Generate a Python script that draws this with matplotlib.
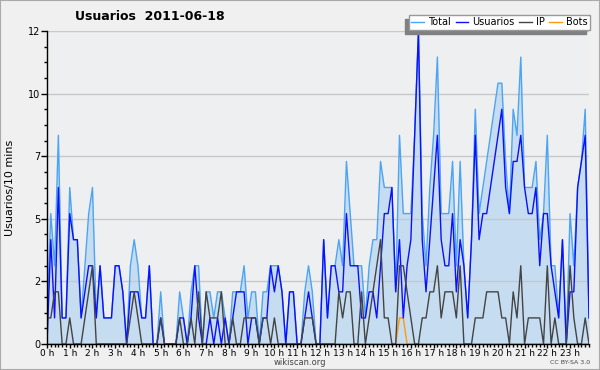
import matplotlib
matplotlib.use('Agg')
import matplotlib.pyplot as plt
from matplotlib.lines import Line2D
from matplotlib.patches import Rectangle
import numpy as np

hour_labels = [f"{h} h" for h in range(24)]
series_names = ["Total", "Usuarios", "IP", "Bots"]

usuarios = [0, 4, 1, 6, 1, 1, 5, 4, 4, 1,
            2, 3, 3, 1, 3, 1, 1, 1, 3, 3,
            2, 0, 2, 2, 2, 1, 1, 3, 0, 0,
            1, 0, 0, 0, 0, 1, 1, 0, 1, 3,
            1, 0, 0, 1, 0, 1, 0, 1, 0, 1,
            2, 2, 2, 0, 1, 1, 0, 1, 1, 3,
            2, 3, 2, 0, 2, 2, 0, 0, 1, 2,
            1, 0, 0, 4, 1, 3, 3, 2, 2, 5,
            3, 3, 3, 1, 1, 2, 2, 1, 3, 5,
            5, 6, 2, 4, 1, 3, 4, 8, 12, 4,
            2, 4, 6, 8, 4, 3, 3, 5, 2, 4,
            3, 1, 4, 8, 4, 5, 5, 6, 7, 8,
            9, 6, 5, 7, 7, 8, 6, 5, 5, 6,
            3, 5, 5, 3, 2, 1, 4, 0, 2, 2,
            6, 7, 8, 1]

ip = [1, 1, 2, 2, 0, 0, 1, 0, 0, 0,
      1, 2, 3, 0, 0, 0, 0, 0, 0, 0,
      0, 0, 1, 2, 1, 0, 0, 0, 0, 0,
      1, 0, 0, 0, 0, 1, 0, 0, 1, 0,
      2, 0, 2, 1, 1, 1, 2, 0, 0, 1,
      0, 0, 1, 1, 1, 1, 0, 1, 1, 0,
      1, 0, 0, 0, 0, 0, 0, 0, 1, 1,
      1, 0, 0, 0, 0, 0, 0, 2, 1, 2,
      2, 0, 0, 2, 0, 1, 2, 3, 4, 1,
      1, 0, 0, 3, 3, 2, 1, 0, 0, 1,
      1, 2, 2, 3, 1, 2, 2, 2, 1, 3,
      0, 0, 0, 1, 1, 1, 2, 2, 2, 2,
      1, 1, 0, 2, 1, 3, 0, 1, 1, 1,
      1, 0, 3, 0, 1, 0, 0, 0, 3, 1,
      0, 0, 1, 0]

bots = [0] * 93 + [1, 1] + [0] * 49

total = [1, 5, 3, 8, 1, 1, 6, 4, 4, 1,
         3, 5, 6, 1, 3, 1, 1, 1, 3, 3,
         2, 0, 3, 4, 3, 1, 1, 3, 0, 0,
         2, 0, 0, 0, 0, 2, 1, 0, 2, 3,
         3, 0, 2, 2, 1, 2, 2, 1, 0, 2,
         2, 2, 3, 1, 2, 2, 0, 2, 2, 3,
         3, 3, 2, 0, 2, 2, 0, 0, 2, 3,
         2, 0, 0, 4, 1, 3, 3, 4, 3, 7,
         5, 3, 3, 3, 1, 3, 4, 4, 7, 6,
         6, 6, 2, 8, 5, 5, 5, 8, 12, 5,
         3, 6, 8, 11, 5, 5, 5, 7, 3, 7,
         3, 1, 4, 9, 5, 6, 7, 8, 9, 10,
         10, 7, 5, 9, 8, 11, 6, 6, 6, 7,
         4, 5, 8, 3, 3, 1, 4, 0, 5, 3,
         6, 7, 9, 1]

ytick_vals = [0, 2.4, 4.8, 7.2, 9.6, 12]
ytick_labels = ["0", "2", "5", "7", "10", "12"]

c_total = '#4ca4f4'
c_user = '#0c10ff'
c_ip = '#444444'
c_bots = '#ff9a10'
c_fill = '#c6dcf0'

W, H = 600, 370
fig = plt.figure(figsize=(6, 3.7), dpi=100, facecolor='#f0f0f0')
ax = fig.add_axes([47 / W, 26 / H, 542 / W, 313 / H])
ax.set_facecolor('#eeeff0')

x = np.arange(len(total))
ax.fill_between(x, total, 0, color=c_fill, lw=0, zorder=1)
ax.plot(x, bots, color=c_bots, lw=1, zorder=2)
ax.plot(x, total, color=c_total, lw=1, zorder=3)
ax.plot(x, usuarios, color=c_user, lw=1, zorder=4)
ax.plot(x, ip, color=c_ip, lw=1, zorder=5)

ax.set_xlim(0, len(total) - 1)
ax.set_ylim(0, 12)
ax.set_axisbelow('line')
ax.yaxis.grid(True, color='#c8c8c8', lw=1)

for s in ['top', 'right']:
    ax.spines[s].set_visible(False)
for s in ['left', 'bottom']:
    ax.spines[s].set_color('black')
    ax.spines[s].set_linewidth(1)
    ax.spines[s].set_zorder(6)

ax.set_yticks(ytick_vals)
ax.set_yticklabels(ytick_labels)
ax.set_yticks(np.arange(0, 12.01, 0.6), minor=True)
ax.set_xticks(np.arange(0, 144, 6))
ax.set_xticklabels(hour_labels)
ax.set_xticks(np.arange(0, 144, 1), minor=True)
ax.tick_params(axis='y', which='major', length=4, width=1, labelsize=7, pad=1, colors='black')
ax.tick_params(axis='x', which='major', length=3, width=1, labelsize=6.5, pad=0.5, colors='black')
ax.tick_params(axis='both', which='minor', length=2.5, width=1, colors='black')

fig.text(75 / W, 1 - 17 / H, 'Usuarios  2011-06-18', fontsize=9, fontweight='bold', va='center', ha='left')
fig.text(10 / W, 1 - 188 / H, 'Usuarios/10 mins', rotation=90, fontsize=8, va='center', ha='center')
fig.text(300 / W, 1 - 362.5 / H, 'wikiscan.org', fontsize=6, color='#444444', ha='center', va='center')
fig.text(590 / W, 1 - 363 / H, 'CC BY-SA 3.0', fontsize=4.5, color='#444444', ha='right', va='center')

handles = [Line2D([], [], color=c, lw=1) for c in [c_total, c_user, c_ip, c_bots]]
leg = fig.legend(handles, series_names, ncol=4, loc='upper right',
                 bbox_to_anchor=(590 / W, 1 - 15 / H), fontsize=7, frameon=True,
                 fancybox=False, edgecolor='#999999', facecolor='white',
                 handlelength=1.3, handletextpad=0.4, columnspacing=0.5,
                 borderpad=0.25, borderaxespad=0,
                 shadow={'ox': -3, 'oy': -3, 'color': '#808080', 'alpha': 1})
leg.get_frame().set_linewidth(1)

fig.patches.append(Rectangle((0, 0), 1, 1, transform=fig.transFigure, fill=False,
                             edgecolor='#aaaaaa', lw=1.5))

fig.savefig('out.png', dpi=100, facecolor=fig.get_facecolor())
